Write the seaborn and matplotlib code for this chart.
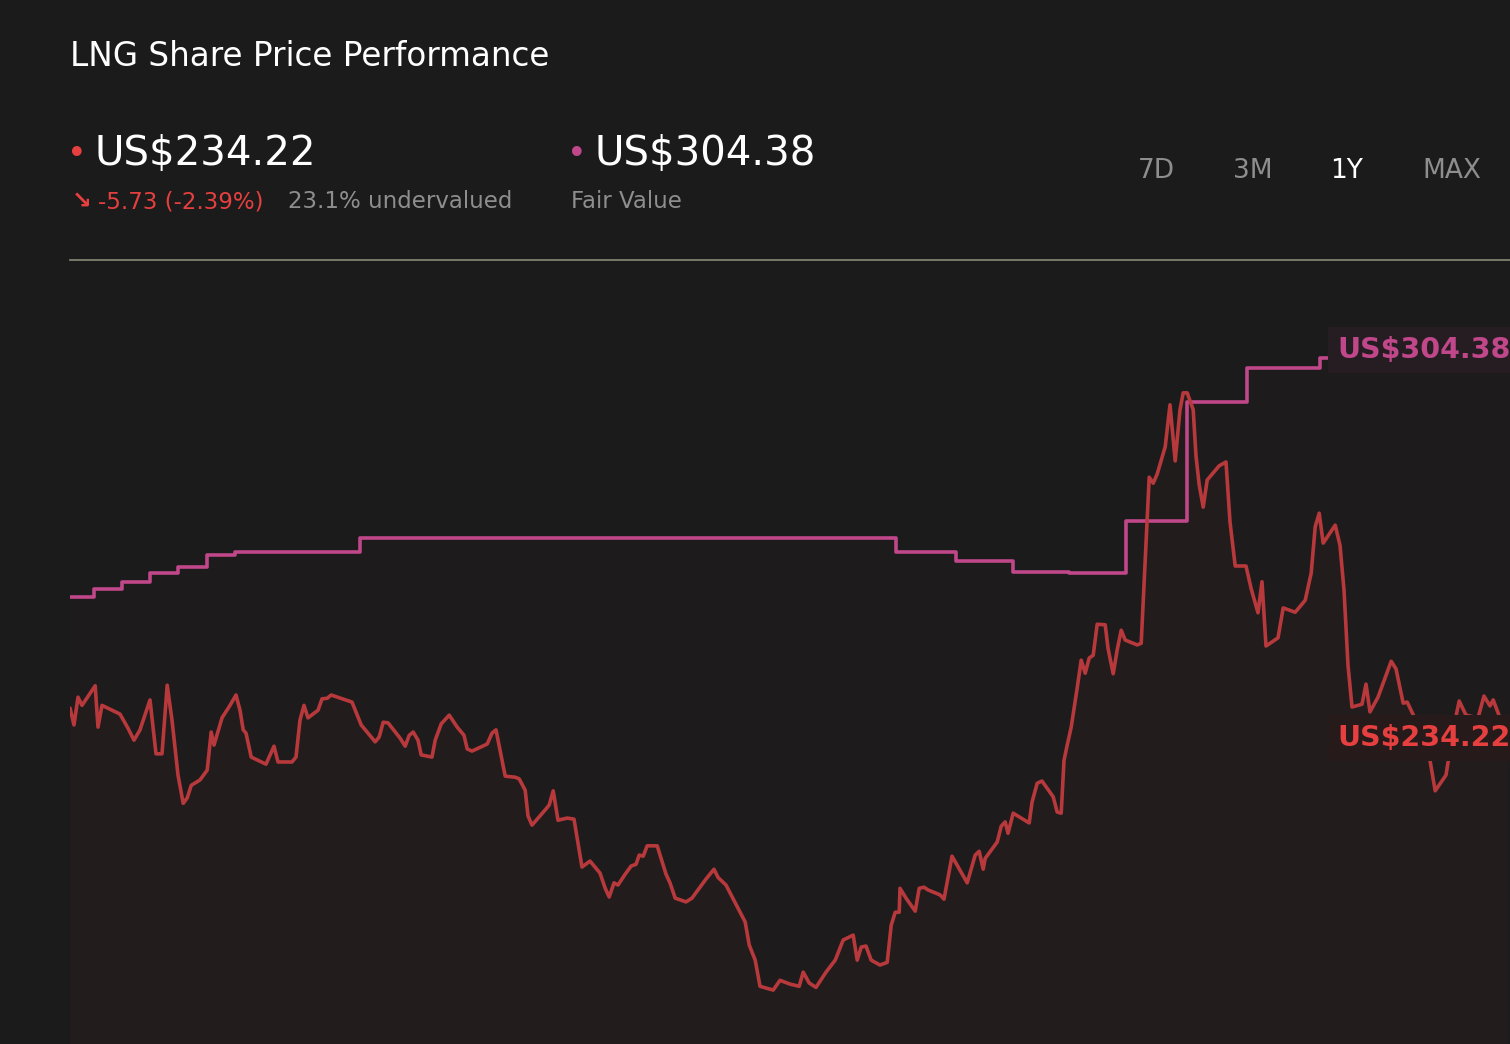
import matplotlib

matplotlib.use("Agg")

import matplotlib.pyplot as plt
import pandas as pd
import seaborn as sns

BG = "#1b1b1b"
RED = "#b8393c"
RED_TXT = "#e5403f"
PINK = "#c0478a"
GREY = "#8e8e8e"

# price history (day index, US$)
price_days = [
    0, 1, 2, 3, 6.3, 7, 8, 12.5, 14.5, 16, 17.5, 20, 21.5, 23, 24.3, 25.5, 27, 28.3, 29.3, 30.3,
    32.5, 34.3, 35.3, 36, 38, 40, 41.5, 42.5, 43.3, 44, 45.3, 49, 51, 52, 55.5, 56.5, 57.5, 58.5,
    59.5, 62, 63, 64.3, 65.3, 70.5, 71.8, 72.8, 76.3, 77.3, 78.3, 79.5, 82.5, 83.8, 84.8, 85.8,
    87, 87.8, 90.5, 91.3, 92.8, 94.8, 96.8, 98.5, 99.3, 100.5, 104.3, 105.5, 106.5, 108.8, 111.3,
    112.3, 113.8, 114.5, 115.5, 118.8, 119.8, 120.8, 122, 124.3, 126, 128, 130, 132.5, 133.8,
    134.8, 136, 137, 138.8, 140.3, 141.5, 142.3, 143.3, 144.3, 146.8, 149, 150, 151.3, 154, 155.5,
    157.3, 159, 161, 162, 164, 168.8, 169.8, 171.3, 172.5, 175.8, 177.5, 180, 182.3, 183.3, 184.8,
    186.5, 189, 191.3, 193.3, 195.8, 196.8, 197.8, 199, 200.3, 202.5, 204.3, 205.3, 206.3, 207.3,
    207.5, 209, 211.3, 212.3, 213.5, 214.5, 217.5, 218.5, 220.5, 224.3, 226.3, 227.3, 228.3,
    228.8, 231.8, 232.8, 233.8, 234.5, 235.8, 239.8, 240.5, 241.8, 243, 245.8, 246.8, 247.8,
    248.5, 249.3, 250.3, 251.8, 252.8, 253.8, 254.8, 255.8, 256.8, 258.8, 259.5, 260.8, 261.8,
    262.8, 263.8, 266.8, 267.8, 268.8, 269.8, 270.8, 271.8, 273.8, 275, 276.3, 277.5, 278.3,
    279.3, 280.8, 281.5, 282.3, 283.3, 284.3, 287.3, 289, 290, 291.3, 294, 295.3, 297, 298, 299,
    302, 303.3, 306.3, 308.8, 310.3, 311.3, 312.3, 313.3, 316.3, 317.5, 318.5, 319.5, 320.5, 323,
    324, 325, 327, 330.3, 331.5, 333.3, 334.3, 336.3, 337.5, 340, 341.3, 344, 345, 346.3, 347.3,
    349, 352, 353.5, 355, 355.8, 357.5, 359.3,
]
price_values = [
    240.1, 237.0, 242.1, 240.6, 244.2, 236.6, 240.6, 239.0, 236.4, 234.2, 236.1, 241.6, 231.7,
    231.7, 244.3, 237.9, 227.8, 222.6, 223.6, 225.9, 226.9, 228.7, 235.7, 233.3, 238.3, 240.6,
    242.5, 239.7, 236.1, 235.5, 231.1, 229.8, 233.1, 230.2, 230.2, 231.1, 237.9, 240.6, 238.3,
    239.7, 241.8, 241.9, 242.5, 241.2, 238.8, 237.0, 233.9, 234.8, 237.5, 237.4, 234.6, 233.1,
    235.1, 235.7, 234.2, 231.5, 231.1, 234.2, 237.2, 238.8, 236.6, 235.1, 232.6, 232.2, 233.5,
    235.5, 236.1, 227.6, 227.4, 227.1, 225.0, 220.3, 218.6, 221.4, 222.3, 224.9, 219.5, 219.9,
    219.7, 210.9, 212.0, 209.8, 207.0, 205.4, 208.0, 207.6, 209.6, 211.1, 211.4, 213.1, 212.9,
    214.8, 214.8, 209.6, 208.0, 205.2, 204.5, 205.2, 207.0, 208.7, 210.5, 209.0, 207.6, 200.8,
    196.6, 193.8, 189.0, 188.3, 190.1, 189.4, 189.0, 191.6, 189.6, 188.8, 191.6, 193.8, 197.5,
    198.4, 193.8, 196.2, 196.4, 193.8, 192.9, 193.4, 200.2, 202.6, 202.6, 207.0, 205.2, 202.8,
    207.0, 207.2, 206.7, 205.8, 205.0, 212.9, 208.0, 213.1, 213.8, 210.5, 212.5, 215.5, 218.4,
    219.2, 217.1, 220.8, 219.0, 222.8, 226.3, 226.7, 223.8, 221.0, 220.8, 230.5, 233.3, 236.6,
    243.8, 248.9, 246.5, 249.3, 249.8, 255.5, 255.4, 251.1, 246.4, 250.8, 254.4, 252.6, 251.7,
    252.0, 267.3, 282.5, 281.4, 283.1, 288.1, 295.8, 285.5, 294.9, 298.0, 298.0, 294.9, 286.4,
    281.1, 277.0, 282.0, 284.6, 285.3, 274.3, 266.2, 266.2, 262.0, 257.6, 263.3, 251.5, 253.0,
    258.5, 257.7, 259.9, 264.9, 273.4, 275.9, 270.4, 273.7, 270.0, 261.8, 248.0, 240.3, 240.8,
    244.5, 239.4, 242.1, 248.7, 247.3, 241.0, 241.2, 238.1, 234.8, 230.5, 224.9, 227.8, 232.4,
    237.9, 241.4, 238.8, 238.3, 242.3, 240.5, 241.6, 238.3, 234.2,
]

# fair value estimate steps
fair_days = [0, 6, 13, 20, 27, 34.3, 41.3, 72.5, 206.5, 221.5, 235.8, 249.8, 264, 279.3, 294.3, 312.5, 360]
fair_values = [260.5, 262.0, 263.3, 264.9, 266.0, 268.2, 268.8, 271.3, 268.8, 267.1, 265.1, 264.9,
               274.4, 296.3, 302.6, 304.4, 304.4]

LAST_PRICE = "US$234.22"
FAIR_VALUE = "US$304.38"
CHANGE = "-5.73 (-2.39%)"
UNDERVALUED = "23.1% undervalued"
PERIODS = ["7D", "3M", "1Y", "MAX"]


def main() -> None:
    sns.set_theme(style="dark")
    plt.rcParams["font.family"] = ["DejaVu Sans"]
    price = pd.DataFrame({"day": price_days, "value": price_values})
    fair = pd.DataFrame({"day": fair_days, "value": fair_values})

    fig = plt.figure(figsize=(15.1, 10.44), dpi=100, facecolor=BG)
    ax = fig.add_axes([70 / 1510, 0, 1 - 70 / 1510, 1 - 260 / 1044])
    ax.set_facecolor(BG)

    ax.fill_between(fair["day"], fair["value"], 178.4, step="post", color=PINK, alpha=0.015, lw=0)
    ax.fill_between(price["day"], price["value"], 178.4, color=RED, alpha=0.035, lw=0)
    sns.lineplot(data=fair, x="day", y="value", drawstyle="steps-post", color=PINK, lw=2.6, ax=ax)
    sns.lineplot(data=price, x="day", y="value", color=RED, lw=2.6, ax=ax)

    ax.set_xlim(0, 360)
    ax.set_ylim(178.4, 322.4)
    ax.set_xticks([])
    ax.set_yticks([])
    ax.set_xlabel("")
    ax.set_ylabel("")
    for side in ["left", "right", "bottom"]:
        ax.spines[side].set_visible(False)
    ax.spines["top"].set_color("#8a8a78")
    ax.spines["top"].set_linewidth(1.2)

    fig.text(1337 / 1510, 1 - 350 / 1044, FAIR_VALUE, color=PINK, fontsize=20.5, fontweight="bold",
             va="center", ha="left",
             bbox=dict(boxstyle="square,pad=0.3", fc="#261d22", ec="none"))
    fig.text(1337 / 1510, 1 - 738 / 1044, LAST_PRICE, color=RED_TXT, fontsize=20.5, fontweight="bold",
             va="center", ha="left",
             bbox=dict(boxstyle="square,pad=0.3", fc="#261a1a", ec="none"))

    # header
    fig.text(70 / 1510, 1 - 56 / 1044, "LNG Share Price Performance", color="white", fontsize=23.5, va="center")
    fig.text(67 / 1510, 1 - 154 / 1044, "•", color=RED_TXT, fontsize=24, va="center")
    fig.text(94 / 1510, 1 - 154 / 1044, LAST_PRICE, color="white", fontsize=29, va="center")
    fig.text(72 / 1510, 1 - 202 / 1044, "↘", color=RED_TXT, fontsize=17, fontweight="bold", va="center")
    fig.text(98 / 1510, 1 - 202 / 1044, CHANGE, color=RED_TXT, fontsize=16.5, va="center")
    fig.text(288 / 1510, 1 - 202 / 1044, UNDERVALUED, color=GREY, fontsize=16.5, va="center")
    fig.text(567 / 1510, 1 - 154 / 1044, "•", color=PINK, fontsize=24, va="center")
    fig.text(595 / 1510, 1 - 154 / 1044, FAIR_VALUE, color="white", fontsize=29, va="center")
    fig.text(571 / 1510, 1 - 202 / 1044, "Fair Value", color=GREY, fontsize=16.5, va="center")
    for label, x in zip(PERIODS, [1156, 1253, 1347, 1452]):
        fig.text(x / 1510, 1 - 171 / 1044, label, color="white" if label == "1Y" else GREY,
                 fontsize=19, va="center", ha="center")

    fig.savefig("out.png", dpi=100, facecolor=BG)
    plt.close(fig)


if __name__ == "__main__":
    main()
